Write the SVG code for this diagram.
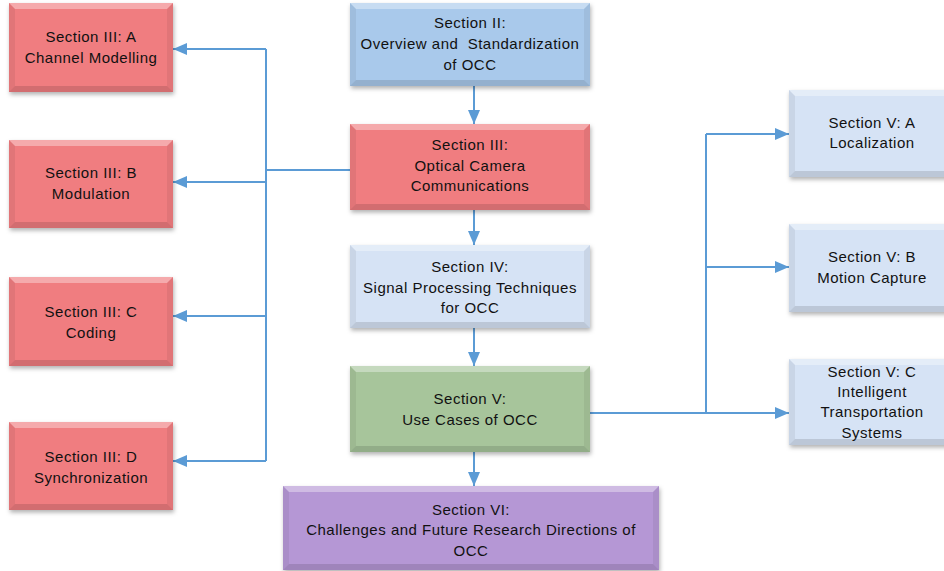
<svg xmlns="http://www.w3.org/2000/svg" width="944" height="571" viewBox="0 0 944 571">
<defs>
<filter id="sh" x="-10%" y="-10%" width="125%" height="130%">
<feDropShadow dx="1" dy="2.5" stdDeviation="2" flood-color="#000" flood-opacity="0.3"/>
</filter>
<marker id="ah" viewBox="0 0 14 12" refX="14" refY="6" markerWidth="14" markerHeight="12" markerUnits="userSpaceOnUse" orient="auto">
<path d="M0,0 L14,6 L0,12 Z" fill="#5B9BD5"/>
</marker>
</defs>
<style>
.red{fill:#F07D80}
.blue{fill:#A9C9EB}
.lb{fill:#D6E3F5}
.green{fill:#A7C59B}
.purple{fill:#B597D5}
.hi{fill:#FFFFFF;fill-opacity:0.35}
.dk{fill:#000000;fill-opacity:0.12}
.sd{fill:#000000;fill-opacity:0.06}
text{font-family:"Liberation Sans",Arial,sans-serif;font-size:15px;letter-spacing:0.5px;fill:#111;text-anchor:middle;white-space:pre}
.ln{fill:none;stroke:#5B9BD5;stroke-width:2}
</style>
<g id="connectors">
<path class="ln" d="M474,86 V124" marker-end="url(#ah)"/>
<path class="ln" d="M474,210 V245" marker-end="url(#ah)"/>
<path class="ln" d="M474,328 V366" marker-end="url(#ah)"/>
<path class="ln" d="M474,452 V486" marker-end="url(#ah)"/>
<path class="ln" d="M350,170 H266"/>
<path class="ln" d="M266,49 V461"/>
<path class="ln" d="M266,49 H173" marker-end="url(#ah)"/>
<path class="ln" d="M266,182 H173" marker-end="url(#ah)"/>
<path class="ln" d="M266,316 H173" marker-end="url(#ah)"/>
<path class="ln" d="M266,461 H173" marker-end="url(#ah)"/>
<path class="ln" d="M590,413 H789" marker-end="url(#ah)"/>
<path class="ln" d="M706,134 V413"/>
<path class="ln" d="M706,134 H789" marker-end="url(#ah)"/>
<path class="ln" d="M706,267 H789" marker-end="url(#ah)"/>
</g>
<g id="n3a">
<rect class="red" x="9" y="3" width="164" height="89" filter="url(#sh)"/>
<polygon class="hi" points="9,3 173,3 167,9 15,9"/>
<polygon class="dk" points="9,92 173,92 167,86 15,86"/>
<polygon class="sd" points="173,3 173,92 167,86 167,9"/>
<polygon class="sd" points="9,3 9,92 15,86 15,9"/>
<text x="91" y="42">Section III: A</text>
<text x="91" y="63">Channel Modelling</text>
</g>
<g id="n3b">
<rect class="red" x="9" y="140" width="164" height="88" filter="url(#sh)"/>
<polygon class="hi" points="9,140 173,140 167,146 15,146"/>
<polygon class="dk" points="9,228 173,228 167,222 15,222"/>
<polygon class="sd" points="173,140 173,228 167,222 167,146"/>
<polygon class="sd" points="9,140 9,228 15,222 15,146"/>
<text x="91" y="178">Section III: B</text>
<text x="91" y="199">Modulation</text>
</g>
<g id="n3c">
<rect class="red" x="9" y="277" width="164" height="89" filter="url(#sh)"/>
<polygon class="hi" points="9,277 173,277 167,283 15,283"/>
<polygon class="dk" points="9,366 173,366 167,360 15,360"/>
<polygon class="sd" points="173,277 173,366 167,360 167,283"/>
<polygon class="sd" points="9,277 9,366 15,360 15,283"/>
<text x="91" y="317">Section III: C</text>
<text x="91" y="338">Coding</text>
</g>
<g id="n3d">
<rect class="red" x="9" y="422" width="164" height="88" filter="url(#sh)"/>
<polygon class="hi" points="9,422 173,422 167,428 15,428"/>
<polygon class="dk" points="9,510 173,510 167,504 15,504"/>
<polygon class="sd" points="173,422 173,510 167,504 167,428"/>
<polygon class="sd" points="9,422 9,510 15,504 15,428"/>
<text x="91" y="462">Section III: D</text>
<text x="91" y="483">Synchronization</text>
</g>
<g id="n2">
<rect class="blue" x="350" y="3" width="240" height="83" filter="url(#sh)"/>
<polygon class="hi" points="350,3 590,3 584,9 356,9"/>
<polygon class="dk" points="350,86 590,86 584,80 356,80"/>
<polygon class="sd" points="590,3 590,86 584,80 584,9"/>
<polygon class="sd" points="350,3 350,86 356,80 356,9"/>
<text x="470" y="28">Section II:</text>
<text x="470" y="49">Overview and  Standardization</text>
<text x="470" y="70">of OCC</text>
</g>
<g id="n3">
<rect class="red" x="350" y="124" width="240" height="86" filter="url(#sh)"/>
<polygon class="hi" points="350,124 590,124 584,130 356,130"/>
<polygon class="dk" points="350,210 590,210 584,204 356,204"/>
<polygon class="sd" points="590,124 590,210 584,204 584,130"/>
<polygon class="sd" points="350,124 350,210 356,204 356,130"/>
<text x="470" y="150">Section III:</text>
<text x="470" y="171">Optical Camera</text>
<text x="470" y="191">Communications</text>
</g>
<g id="n4">
<rect class="lb" x="350" y="245" width="240" height="83" filter="url(#sh)"/>
<polygon class="hi" points="350,245 590,245 584,251 356,251"/>
<polygon class="dk" points="350,328 590,328 584,322 356,322"/>
<polygon class="sd" points="590,245 590,328 584,322 584,251"/>
<polygon class="sd" points="350,245 350,328 356,322 356,251"/>
<text x="470" y="272">Section IV:</text>
<text x="470" y="293">Signal Processing Techniques</text>
<text x="470" y="313">for OCC</text>
</g>
<g id="n5">
<rect class="green" x="350" y="366" width="240" height="86" filter="url(#sh)"/>
<polygon class="hi" points="350,366 590,366 584,372 356,372"/>
<polygon class="dk" points="350,452 590,452 584,446 356,446"/>
<polygon class="sd" points="590,366 590,452 584,446 584,372"/>
<polygon class="sd" points="350,366 350,452 356,446 356,372"/>
<text x="470" y="404">Section V:</text>
<text x="470" y="425">Use Cases of OCC</text>
</g>
<g id="n6">
<rect class="purple" x="283" y="486" width="376" height="84" filter="url(#sh)"/>
<polygon class="hi" points="283,486 659,486 653,492 289,492"/>
<polygon class="dk" points="283,570 659,570 653,564 289,564"/>
<polygon class="sd" points="659,486 659,570 653,564 653,492"/>
<polygon class="sd" points="283,486 283,570 289,564 289,492"/>
<text x="471" y="515">Section VI:</text>
<text x="471" y="535">Challenges and Future Research Directions of</text>
<text x="471" y="556">OCC</text>
</g>
<g id="n5a">
<rect class="lb" x="789" y="90" width="166" height="87" filter="url(#sh)"/>
<polygon class="hi" points="789,90 955,90 949,96 795,96"/>
<polygon class="dk" points="789,177 955,177 949,171 795,171"/>
<polygon class="sd" points="789,90 789,177 795,171 795,96"/>
<text x="872" y="128">Section V: A</text>
<text x="872" y="148">Localization</text>
</g>
<g id="n5b">
<rect class="lb" x="789" y="224" width="166" height="88" filter="url(#sh)"/>
<polygon class="hi" points="789,224 955,224 949,230 795,230"/>
<polygon class="dk" points="789,312 955,312 949,306 795,306"/>
<polygon class="sd" points="789,224 789,312 795,306 795,230"/>
<text x="872" y="262">Section V: B</text>
<text x="872" y="283">Motion Capture</text>
</g>
<g id="n5c">
<rect class="lb" x="789" y="359" width="166" height="86" filter="url(#sh)"/>
<polygon class="hi" points="789,359 955,359 949,365 795,365"/>
<polygon class="dk" points="789,445 955,445 949,439 795,439"/>
<polygon class="sd" points="789,359 789,445 795,439 795,365"/>
<text x="872" y="377">Section V: C</text>
<text x="872" y="397">Intelligent</text>
<text x="872" y="417">Transportation</text>
<text x="872" y="438">Systems</text>
</g>
</svg>
